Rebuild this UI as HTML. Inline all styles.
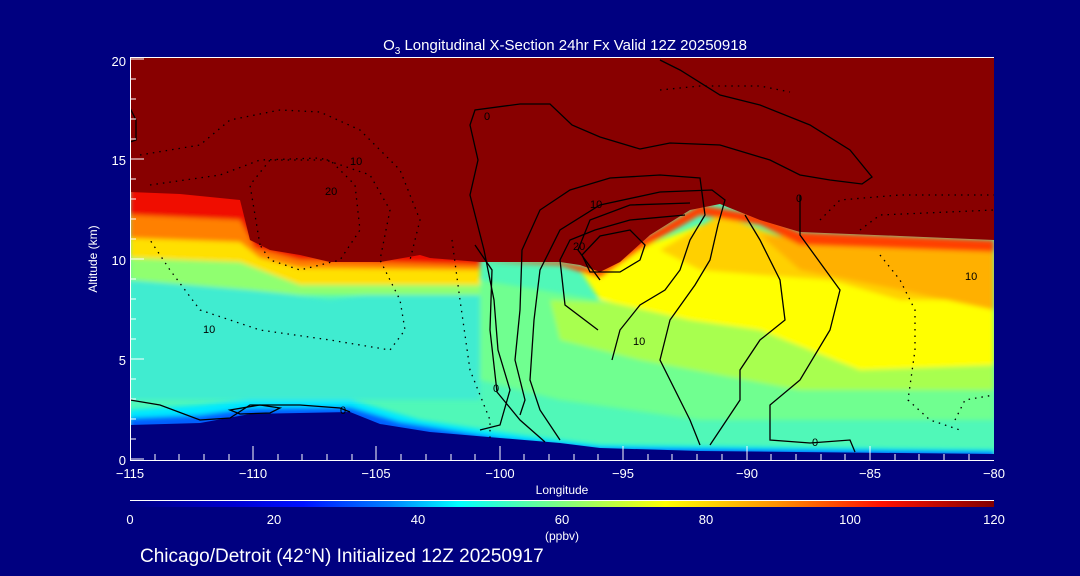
<!DOCTYPE html>
<html><head><style>
html,body{margin:0;padding:0;background:#000080;}
svg{display:block;}
text{font-family:"Liberation Sans",sans-serif;fill:#fff;}
</style></head><body>
<svg width="1080" height="576" viewBox="0 0 1080 576" xmlns="http://www.w3.org/2000/svg">
<defs>
<linearGradient id="cb" x1="0" x2="1" y1="0" y2="0">
<stop offset="0" stop-color="#000080"/>
<stop offset="0.12" stop-color="#0000d0"/>
<stop offset="0.2" stop-color="#0010ff"/>
<stop offset="0.3" stop-color="#0080ff"/>
<stop offset="0.38" stop-color="#00ffff"/>
<stop offset="0.5" stop-color="#80ff80"/>
<stop offset="0.62" stop-color="#ffff00"/>
<stop offset="0.75" stop-color="#ff9000"/>
<stop offset="0.87" stop-color="#ff1000"/>
<stop offset="1" stop-color="#800000"/>
</linearGradient>
<filter id="bl"><feGaussianBlur stdDeviation="2.5"/></filter>
<clipPath id="pc"><rect x="130" y="58" width="864" height="402"/></clipPath>
</defs>
<rect width="1080" height="576" fill="#000080"/>
<text x="565" y="50" font-size="15" text-anchor="middle">O<tspan font-size="10" dy="4">3</tspan><tspan dy="-4"> Longitudinal X-Section 24hr  Fx Valid 12Z 20250918</tspan></text>
<g clip-path="url(#pc)">
<rect x="130" y="58" width="864" height="402" fill="#50f8b8"/>
<g filter="url(#bl)">
<path d="M130 280 L260 290 L330 300 L400 290 L480 290 L480 400 L130 400 Z" fill="#40ecd0"/>
<path d="M480 280 L600 300 L700 320 L994 340 L994 420 L700 420 L560 400 L480 380 Z" fill="#70ff90"/>
<path d="M550 300 L994 320 L994 390 L800 390 L640 360 L560 340 Z" fill="#a8ff50"/>
<path d="M580 270 L700 225 L770 235 L994 270 L994 365 L860 370 L760 330 L690 320 L600 300 Z" fill="#ffff00"/>
<path d="M660 250 L720 215 L790 240 L994 255 L994 300 L900 300 L830 280 L760 275 L700 270 Z" fill="#ffd000"/>
<path d="M760 235 L994 250 L994 310 L900 290 L800 270 Z" fill="#ffb000"/>
<!-- left warm bands -->
<path d="M130 185 L480 185 L480 295 L300 295 L250 290 L130 280 Z" fill="#90ff70"/>
<path d="M130 185 L480 185 L480 285 L300 285 L240 262 L130 258 Z" fill="#ffe000"/>
<path d="M130 185 L480 185 L480 270 L300 268 L260 258 L240 242 L130 238 Z" fill="#ff8000"/>
<path d="M130 185 L480 185 L480 265 L300 260 L255 248 L240 220 L130 215 Z" fill="#f01000"/>
<path d="M480 262 L560 265 L600 278 L640 250 L700 215 L760 225 L800 245 L994 252 L994 240 L800 232 L760 215 L700 205 L640 240 L600 270 L560 262 Z" fill="#ff4000"/>
<path d="M130 410 L200 405 L250 400 L350 400 L420 420 L520 435 L600 445 L994 450 L994 470 L130 470 Z" fill="#00e8ff"/>
<path d="M130 418 L200 415 L250 408 L350 407 L400 422 L500 438 L600 448 L994 452 L994 470 L130 470 Z" fill="#0060ff"/>
</g>
<path d="M130 58 L994 58 L994 240 L900 236 L800 232 L760 220 L720 204 L690 210 L650 235 L620 262 L600 272 L580 265 L560 262 L500 262 L480 262 L430 258 L420 255 L380 262 L330 262 L300 255 L270 250 L250 240 L240 200 L180 194 L130 192 Z" fill="#880000"/>
<path d="M130 425 L200 423 L250 414 L300 413 L350 412 L380 424 L430 432 L500 438 L560 443 L600 448 L700 451 L994 454 L994 470 L130 470 Z" fill="#000080"/>
<g fill="none" stroke="#000" stroke-width="1.3">
<path d="M480 430 L500 425 L510 390 L498 350 L494 300 L484 250 L470 195 L478 160 L470 125 L475 110 L520 104 L550 104 L572 125 L600 137 L640 149 L670 143 L720 145 L770 160 L800 175 L830 180 L862 184 L872 177 L850 150 L810 125 L760 105 L720 95 L680 70 L660 60"/>
<path d="M545 442 L520 420 L497 392 L490 330 L492 270 L475 245"/>
<path d="M520 415 L525 400 L515 360 L520 310 L522 250 L540 210 L570 190 L610 178 L660 175 L700 178 L705 215 L690 240 L680 270 L665 290 L640 305 L620 330 L612 360"/>
<path d="M560 440 L540 410 L530 380 L534 320 L540 270 L560 230 L600 205 L660 192 L712 190 L725 200 L718 225 L710 260 L695 285 L670 320 L660 360 L690 420 L700 445"/>
<path d="M600 280 L578 250 L590 220 L630 205 L690 203"/>
<path d="M598 330 L565 305 L560 260 L570 240 L595 230 L630 220 L685 215"/>
<path d="M630 230 L600 236 L582 255 L590 272 L620 272 L640 260 L645 245 Z"/>
<path d="M710 445 L740 400 L740 370 L760 340 L785 320 L780 280 L760 240 L745 215"/>
<path d="M800 195 L800 235 L840 290 L830 330 L800 380 L770 405 L770 440 L810 443 L850 440 L855 452"/>
<path d="M130 400 L160 405 L200 420 L230 418 L250 405 L300 405 L340 408 L350 412"/>
<path d="M130 108 L136 120 L136 140 L130 142"/>
<path d="M230 410 L260 405 L280 408 L270 413 L240 414 Z"/>
</g>
<g fill="none" stroke="#000" stroke-width="1.3" stroke-dasharray="1.5 5">
<path d="M140 155 L200 145 L230 120 L280 110 L320 112 L360 130 L400 170 L420 220 L410 260"/>
<path d="M150 185 L220 175 L260 160 L320 158 L370 175 L390 210 L380 260 L400 300 L405 330 L390 350 L330 340 L260 330 L200 310 L170 270 L150 240"/>
<path d="M260 245 L250 185 L270 160 L330 160 L355 185 L360 230 L340 260 L300 270 L270 260 Z"/>
<path d="M452 240 L460 300 L470 370 L490 420 L490 440"/>
<path d="M880 255 L900 280 L915 310 L915 350 L908 400 L930 420 L960 430"/>
<path d="M820 220 L840 200 L900 195 L994 195"/>
<path d="M860 230 L880 215 L994 210"/>
<path d="M955 420 L965 400 L994 395"/>
<path d="M660 90 L700 86 L760 86 L790 92"/>
</g>
<g font-size="11">
<text x="590" y="208" style="fill:#000">10</text>
<text x="573" y="250" style="fill:#000">20</text>
<text x="633" y="345" style="fill:#000">10</text>
<text x="493" y="392" style="fill:#000">0</text>
<text x="484" y="120" style="fill:#000">0</text>
<text x="796" y="202" style="fill:#000">0</text>
<text x="812" y="446" style="fill:#000">0</text>
<text x="340" y="414" style="fill:#000">0</text>
<text x="350" y="165" style="fill:#000">10</text>
<text x="325" y="195" style="fill:#000">20</text>
<text x="203" y="333" style="fill:#000">10</text>
<text x="965" y="280" style="fill:#000">10</text>
</g>
</g>
<g stroke="#fff" stroke-width="1" fill="none">
<line x1="130" y1="57.5" x2="994" y2="57.5"/>
<line x1="130" y1="460.5" x2="994" y2="460.5"/>
<line x1="130.5" y1="58" x2="130.5" y2="460"/>
</g>
<g stroke="#fff" stroke-width="1">
<path d="M130 459h14M130 359h14M130 259h14M130 159h14M130 59h14"/>
<path d="M130 439h6M130 419h6M130 399h6M130 379h6M130 339h6M130 319h6M130 299h6M130 279h6M130 239h6M130 219h6M130 199h6M130 179h6M130 139h6M130 119h6M130 99h6M130 79h6"/>
<path d="M253 460v-14M376 460v-14M500 460v-14M623 460v-14M747 460v-14M870 460v-14"/>
<path d="M155 460v-6M179 460v-6M204 460v-6M229 460v-6M278 460v-6M302 460v-6M327 460v-6M352 460v-6M401 460v-6M426 460v-6M451 460v-6M475 460v-6M524 460v-6M549 460v-6M574 460v-6M598 460v-6M648 460v-6M672 460v-6M697 460v-6M722 460v-6M771 460v-6M796 460v-6M821 460v-6M845 460v-6M895 460v-6M919 460v-6M944 460v-6M969 460v-6"/>
</g>
<g font-size="13" text-anchor="end">
<text x="126" y="465">0</text><text x="126" y="365">5</text><text x="126" y="265">10</text><text x="126" y="165">15</text><text x="126" y="66">20</text>
</g>
<g font-size="13" text-anchor="middle">
<text x="130" y="478">−115</text><text x="253" y="478">−110</text><text x="376" y="478">−105</text><text x="500" y="478">−100</text><text x="623" y="478">−95</text><text x="747" y="478">−90</text><text x="870" y="478">−85</text><text x="994" y="478">−80</text>
</g>
<text x="562" y="494" font-size="12" text-anchor="middle">Longitude</text>
<text transform="translate(97,259) rotate(-90)" font-size="12" text-anchor="middle">Altitude (km)</text>
<line x1="130" y1="500.5" x2="994" y2="500.5" stroke="#fff"/>
<rect x="130" y="501" width="864" height="6" fill="url(#cb)"/>
<g font-size="13" text-anchor="middle">
<text x="130" y="524">0</text><text x="274" y="524">20</text><text x="418" y="524">40</text><text x="562" y="524">60</text><text x="706" y="524">80</text><text x="850" y="524">100</text><text x="994" y="524">120</text>
</g>
<text x="562" y="540" font-size="12" text-anchor="middle">(ppbv)</text>
<text x="140" y="562" font-size="19">Chicago/Detroit (42°N) Initialized 12Z 20250917</text>
</svg>
</body></html>
